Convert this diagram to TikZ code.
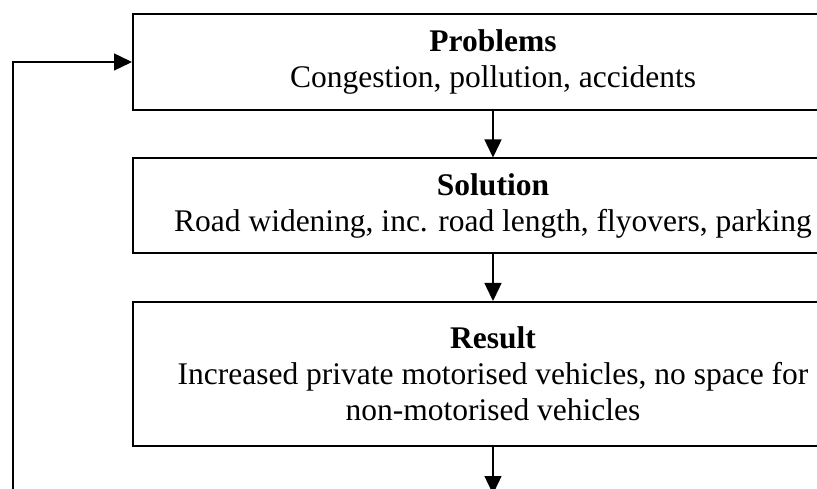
\documentclass[tikz,border=0pt]{standalone}
\usepackage{fontspec}
\setmainfont{Liberation Serif}
\usetikzlibrary{arrows.meta,positioning}

\begin{document}
\begin{tikzpicture}[x=1pt,y=-1pt,line width=1.4pt,
  flow/.style={-{Triangle[length=18pt,width=17pt]}},
  every node/.style={align=center,draw,rectangle,line width=2pt,minimum width=720pt,font=\fontsize{31.5}{36}\selectfont}]
\useasboundingbox (0,0) rectangle (817,489);
\clip (0,0) rectangle (817,489);
\node[minimum height=96pt] (problems) at (493,62) {\textbf{Problems}\\Congestion, pollution, accidents};
\node[minimum height=95pt] (solution) at (493,206) {\textbf{Solution}\\Road widening, inc. road length, flyovers, parking};
\node[minimum height=144pt] (result) at (493,374) {\textbf{Result}\\Increased private motorised vehicles, no space for\\non-motorised vehicles};
\coordinate (next) at (493,494);
\coordinate (loop) at (13,520);

\draw[flow] (problems) -- (solution);
\draw[flow] (solution) -- (result);
\draw[flow] (result) -- (next);
\draw[flow] (loop) |- (problems);

\end{tikzpicture}
\end{document}
